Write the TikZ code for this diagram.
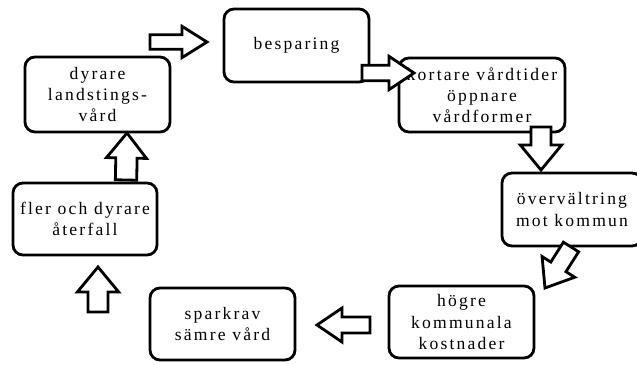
\documentclass[tikz,border=0pt]{standalone}
\usepackage{fontspec}
\setmainfont{Liberation Serif}[LetterSpace=12.5]
\usepackage{tikz}
\usetikzlibrary{calc}
\tikzset{
  stage/.style={draw, thick, line width=2.4pt, rounded corners=0.3cm, fill=white,
    align=center, font=\fontsize{15}{18}\selectfont, inner sep=0pt},
  fat/.style={draw=black, fill=white, line width=2.4pt, line join=miter}
}
% block arrow: #1 from, #2 to, #3 half shaft width, #4 half head width
\newcommand{\fatarrow}[4]{\filldraw[fat] ($(#1)!#3!90:(#2)$) -- ($(#2)!0.75cm!(#1)!#3!90:(#2)$) -- ($(#2)!0.75cm!(#1)!#4!90:(#2)$) -- (#2) -- ($(#2)!0.75cm!(#1)!#4!-90:(#2)$) -- ($(#2)!0.75cm!(#1)!#3!-90:(#2)$) -- ($(#1)!#3!-90:(#2)$) -- cycle;}

\begin{document}
\begin{tikzpicture}[x=0.03cm, y=-0.03cm]
        \useasboundingbox (0,0) rectangle (637,365);
        % boxes
        \node[stage, minimum width=4.35cm, minimum height=2.19cm] (besparing) at (296.5,45.5) {besparing};
        \node[stage, minimum width=4.98cm, minimum height=2.22cm] (kortare) at (482,95) {kortare vårdtider\\öppnare\\vårdformer};
        \node[stage, minimum width=4.2cm, minimum height=2.19cm] (overvaltring) at (572,209.5) {övervältring\\mot kommun};
        \node[stage, minimum width=4.35cm, minimum height=2.16cm] (hogre) at (461.5,322) {högre\\kommunala\\kostnader};
        \node[stage, minimum width=4.35cm, minimum height=2.16cm] (sparkrav) at (222.5,324) {sparkrav\\sämre vård};
        \node[stage, minimum width=4.32cm, minimum height=2.16cm] (fler) at (85,219) {fler och dyrare\\återfall};
        \node[stage, minimum width=4.35cm, minimum height=2.25cm] (dyrare) at (97.5,94.5) {dyrare\\landstings-\\vård};
        % arrow ends
        \coordinate (a1s) at (150,42);  \coordinate (a1e) at (207,42);
        \coordinate (a2s) at (362,73);  \coordinate (a2e) at (414,73);
        \coordinate (a3s) at (541,127); \coordinate (a3e) at (541,170);
        \coordinate (a4s) at (571,247); \coordinate (a4e) at (545,288);
        \coordinate (a5s) at (370,325); \coordinate (a5e) at (317,325);
        \coordinate (a6s) at (98,312);  \coordinate (a6e) at (98,267);
        \coordinate (a7s) at (126,180); \coordinate (a7e) at (127,133);
        % arrows
        \fatarrow{a1s}{a1e}{0.22cm}{0.47cm}
        \fatarrow{a2s}{a2e}{0.23cm}{0.5cm}
        \fatarrow{a3s}{a3e}{0.3cm}{0.62cm}
        \fatarrow{a4s}{a4e}{0.27cm}{0.58cm}
        \fatarrow{a5s}{a5e}{0.24cm}{0.51cm}
        \fatarrow{a6s}{a6e}{0.3cm}{0.62cm}
        \fatarrow{a7s}{a7e}{0.32cm}{0.6cm}
    \end{tikzpicture}
\end{document}
